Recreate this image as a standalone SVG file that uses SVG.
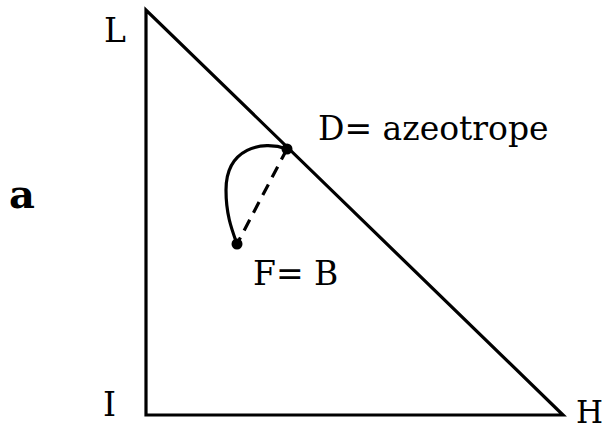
<svg xmlns="http://www.w3.org/2000/svg" width="609" height="431" viewBox="0 0 609 431">
<style>
.t{font-family:"DejaVu Serif","Liberation Serif",serif;font-size:33px;fill:#000}
.ln{stroke:#000;stroke-width:3.2;fill:none}
</style>
<rect width="609" height="431" fill="#fff"/>
<g id="triangle">
<path class="ln" d="M146,10 L146,415 L563,415 Z" stroke-linejoin="miter"/>
</g>
<g id="connectors">
<path class="ln" d="M287,149 L237,244" stroke-dasharray="12,8"/>
<path class="ln" d="M287,149 C262,140 226,148 226,190 C226,215 232,230 237,244"/>
</g>
<g id="D"><circle cx="287" cy="149" r="5.5" fill="#000"/></g>
<g id="F"><circle cx="237" cy="244" r="5.5" fill="#000"/></g>
<g id="labels">
<text class="t" x="104" y="42">L</text>
<text class="t" x="318" y="140">D= azeotrope</text>
<text class="t" x="253" y="285">F= B</text>
<text class="t" x="103" y="416">I</text>
<text class="t" x="576" y="423" style="font-size:31px">H</text>
<text x="9" y="208" style="font-family:'DejaVu Serif',serif;font-size:40px;font-weight:bold">a</text>
</g>
</svg>
